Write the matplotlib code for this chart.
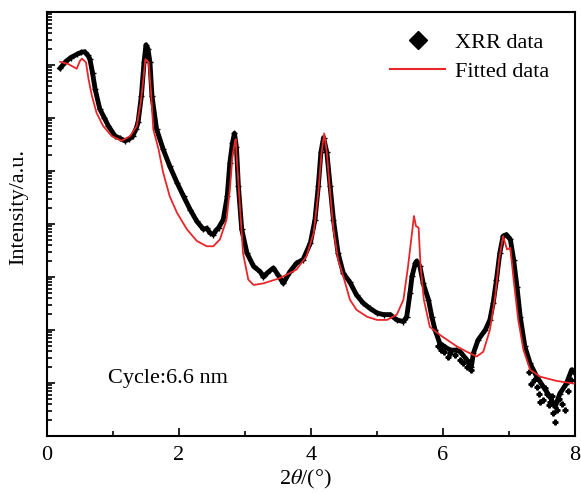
import matplotlib
matplotlib.use("Agg")
import matplotlib.pyplot as plt
from matplotlib.lines import Line2D
from matplotlib.ticker import LogLocator, NullFormatter, MultipleLocator
import numpy as np

plt.rcParams['font.family'] = ['Liberation Serif', 'DejaVu Serif']
plt.rcParams['mathtext.fontset'] = 'stix'

# XRR measurement, 2theta (deg) and log10 of intensity
xrr_x = [0.20, 0.28, 0.36, 0.45, 0.52, 0.57, 0.62, 0.65, 0.69, 0.73, 0.80, 0.87, 0.93, 1.03, 1.10,
         1.18, 1.24, 1.30, 1.35, 1.38, 1.43, 1.47, 1.50, 1.53, 1.56, 1.59, 1.66, 1.76, 1.86, 1.97,
         2.07, 2.17, 2.27, 2.37, 2.42, 2.47, 2.52, 2.56, 2.60, 2.67, 2.73, 2.77, 2.81, 2.84, 2.87,
         2.90, 2.95, 3.03, 3.13, 3.23, 3.28, 3.33, 3.43, 3.50, 3.58, 3.68, 3.78, 3.88, 3.99, 4.06,
         4.11, 4.15, 4.19, 4.24, 4.29, 4.34, 4.41, 4.49, 4.59, 4.69, 4.79, 4.89, 5.00, 5.10, 5.20,
         5.30, 5.40, 5.45, 5.50, 5.53, 5.58, 5.60, 5.65, 5.70, 5.78, 5.83, 5.88, 5.95, 6.03, 6.11,
         6.20, 6.26, 6.36, 6.43, 6.46, 6.53, 6.64, 6.71, 6.76, 6.81, 6.86, 6.91, 6.96, 7.02, 7.07,
         7.12, 7.17, 7.24, 7.32, 7.42, 7.52, 7.62, 7.70, 7.77, 7.87, 7.95, 7.99]
xrr_log = [6.94, 7.06, 7.14, 7.20, 7.24, 7.25, 7.18, 7.11, 6.85, 6.54, 6.17, 6.00, 5.85, 5.66, 5.62,
           5.57, 5.60, 5.66, 5.80, 5.92, 6.42, 7.05, 7.38, 7.30, 7.05, 6.42, 5.79, 5.41, 5.09, 4.78,
           4.52, 4.27, 4.05, 3.90, 3.92, 3.83, 3.80, 3.88, 3.93, 4.08, 4.52, 5.15, 5.53, 5.71, 5.45,
           4.71, 3.90, 3.45, 3.20, 3.10, 3.00, 3.07, 3.17, 3.04, 2.88, 3.10, 3.26, 3.33, 3.64, 4.08,
           4.71, 5.35, 5.63, 5.35, 4.71, 4.08, 3.45, 3.07, 2.90, 2.66, 2.51, 2.41, 2.32, 2.29, 2.29,
           2.19, 2.16, 2.25, 2.70, 3.01, 3.26, 3.30, 3.20, 2.88, 2.57, 2.25, 2.00, 1.75, 1.68, 1.62,
           1.62, 1.59, 1.44, 1.31, 1.56, 1.81, 2.00, 2.19, 2.51, 2.95, 3.45, 3.77, 3.80, 3.71, 3.33,
           2.82, 2.25, 1.69, 1.37, 1.12, 0.93, 0.74, 0.55, 0.80, 0.99, 1.25, 1.20]

# scattered noisy XRR points
noise_x = [5.92, 5.97, 6.02, 6.08, 6.11, 6.18, 6.26, 6.31, 6.36, 6.40, 6.43, 7.30, 7.34, 7.38, 7.42,
           7.45, 7.47, 7.52, 7.55, 7.57, 7.60, 7.62, 7.65, 7.67, 7.70, 7.72, 7.76, 7.80, 7.85, 7.90,
           7.94]
noise_log = [1.70, 1.62, 1.58, 1.50, 1.57, 1.52, 1.44, 1.38, 1.31, 1.40, 1.25, 1.20, 0.99, 1.05,
             0.93, 0.80, 0.65, 0.68, 0.90, 0.80, 0.58, 0.65, 0.75, 0.43, 0.27, 0.49, 0.70, 0.60,
             0.49, 0.85, 1.05]

# fitted curve
fit_x = [0.20, 0.32, 0.45, 0.50, 0.53, 0.59, 0.63, 0.68, 0.75, 0.85, 0.98, 1.13, 1.26, 1.36, 1.42,
         1.46, 1.49, 1.54, 1.58, 1.61, 1.69, 1.76, 1.86, 1.97, 2.12, 2.27, 2.42, 2.52, 2.62, 2.72,
         2.77, 2.81, 2.85, 2.86, 2.87, 2.92, 2.97, 3.05, 3.13, 3.28, 3.53, 3.78, 3.93, 4.04, 4.11,
         4.16, 4.20, 4.24, 4.29, 4.34, 4.41, 4.49, 4.59, 4.69, 4.85, 5.00, 5.15, 5.30, 5.40, 5.47,
         5.53, 5.56, 5.59, 5.63, 5.66, 5.71, 5.80, 5.95, 6.21, 6.36, 6.51, 6.61, 6.71, 6.79, 6.85,
         6.91, 6.97, 7.02, 7.07, 7.14, 7.22, 7.32, 7.47, 7.72, 7.98]
fit_log = [7.06, 7.02, 6.93, 7.08, 7.12, 7.05, 6.73, 6.42, 6.10, 5.85, 5.66, 5.57, 5.66, 5.85, 6.29,
           6.73, 7.11, 7.05, 6.42, 5.79, 5.41, 4.97, 4.52, 4.21, 3.90, 3.68, 3.58, 3.58, 3.71, 4.08,
           4.65, 5.28, 5.57, 5.60, 5.35, 4.40, 3.45, 2.95, 2.85, 2.88, 2.98, 3.14, 3.39, 3.83, 4.59,
           5.35, 5.71, 5.35, 4.59, 3.90, 3.33, 3.01, 2.57, 2.38, 2.25, 2.19, 2.19, 2.29, 2.57, 3.20,
           3.83, 4.15, 3.96, 3.93, 3.20, 2.57, 2.06, 1.91, 1.69, 1.59, 1.50, 1.59, 2.00, 2.63, 3.33,
           3.77, 3.52, 3.55, 2.95, 2.19, 1.62, 1.25, 1.12, 1.04, 0.99]

fig = plt.figure(figsize=(5.81, 4.94), dpi=100)
ax = fig.add_axes([0.0809, 0.1174, 0.9088, 0.8583])

ax.plot(xrr_x, 10 ** np.array(xrr_log), color='black', lw=3.5, zorder=2)
ax.plot(xrr_x, 10 ** np.array(xrr_log), ls='none', marker='+', ms=5, mew=1, color='black', zorder=2)
ax.plot(noise_x, 10 ** np.array(noise_log), ls='none', marker='P', ms=3.5, color='black', zorder=2)
ax.plot(fit_x, 10 ** np.array(fit_log), color='#e8262a', lw=1.3, zorder=3)

ax.set_yscale('log')
ax.set_xlim(0, 8)
ax.set_ylim(1, 1e8)
ax.xaxis.set_major_locator(MultipleLocator(2))
ax.xaxis.set_minor_locator(MultipleLocator(1))
ax.yaxis.set_major_locator(LogLocator(base=10, numticks=20))
ax.yaxis.set_minor_locator(LogLocator(base=10, subs=np.arange(2, 10), numticks=20))
ax.yaxis.set_major_formatter(NullFormatter())
ax.yaxis.set_minor_formatter(NullFormatter())
ax.tick_params(which='both', direction='in', width=1.2, top=False, right=False)
ax.tick_params(which='major', length=6, labelsize=16, pad=7)
ax.tick_params(which='minor', length=3.5)
for s in ax.spines.values():
    s.set_linewidth(1.5)

ax.set_xlabel(r'2$\theta$/(°)', fontsize=16)
ax.set_ylabel('Intensity/a.u.', fontsize=16)
ax.xaxis.set_label_coords(0.49, -0.075)
ax.yaxis.set_label_coords(-0.036, 0.54)

ax.text(0.92, 10 ** 1.09, 'Cycle:6.6 nm', fontsize=16, va='center', ha='left')

handles = [Line2D([], [], ls='none', marker='D', ms=9, color='black'),
           Line2D([], [], color='#e8262a', lw=1.5)]
ax.legend(handles, ['XRR data', 'Fitted data'], loc='upper right', bbox_to_anchor=(0.99, 1.0),
          frameon=False, fontsize=16, handlelength=2.5, handletextpad=0.45, labelspacing=0.4)

fig.savefig('out.png', dpi=100)
